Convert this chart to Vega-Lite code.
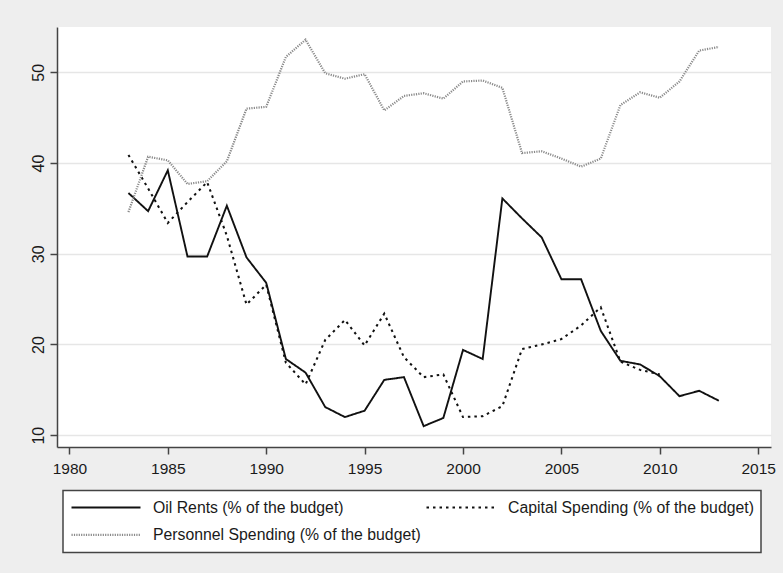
{
  "$schema": "https://vega.github.io/schema/vega-lite/v6.json",
  "autosize": {"type": "none"},
  "width": 714,
  "height": 420,
  "padding": {"left": 57, "top": 27, "right": 12, "bottom": 126},
  "background": "#eeeeee",
  "config": {
    "font": "Arial",
    "view": {"fill": "white", "stroke": null},
    "axis": {
      "domainColor": "#444444",
      "domainWidth": 1.5,
      "tickColor": "#444444",
      "tickWidth": 1.5,
      "tickSize": 7,
      "labelFont": "Arial",
      "labelFontSize": 15.5,
      "labelColor": "#1a1a1a"
    },
    "legend": {"labelFont": "Arial"}
  },
  "data": {
    "values": [
      {"year": 1983, "series": "Oil Rents (% of the budget)", "value": 36.7},
      {"year": 1984, "series": "Oil Rents (% of the budget)", "value": 34.7},
      {"year": 1985, "series": "Oil Rents (% of the budget)", "value": 39.2},
      {"year": 1986, "series": "Oil Rents (% of the budget)", "value": 29.7},
      {"year": 1987, "series": "Oil Rents (% of the budget)", "value": 29.7},
      {"year": 1988, "series": "Oil Rents (% of the budget)", "value": 35.3},
      {"year": 1989, "series": "Oil Rents (% of the budget)", "value": 29.6},
      {"year": 1990, "series": "Oil Rents (% of the budget)", "value": 26.8},
      {"year": 1991, "series": "Oil Rents (% of the budget)", "value": 18.4},
      {"year": 1992, "series": "Oil Rents (% of the budget)", "value": 16.9},
      {"year": 1993, "series": "Oil Rents (% of the budget)", "value": 13.1},
      {"year": 1994, "series": "Oil Rents (% of the budget)", "value": 12.0},
      {"year": 1995, "series": "Oil Rents (% of the budget)", "value": 12.7},
      {"year": 1996, "series": "Oil Rents (% of the budget)", "value": 16.1},
      {"year": 1997, "series": "Oil Rents (% of the budget)", "value": 16.4},
      {"year": 1998, "series": "Oil Rents (% of the budget)", "value": 11.0},
      {"year": 1999, "series": "Oil Rents (% of the budget)", "value": 11.9},
      {"year": 2000, "series": "Oil Rents (% of the budget)", "value": 19.4},
      {"year": 2001, "series": "Oil Rents (% of the budget)", "value": 18.4},
      {"year": 2002, "series": "Oil Rents (% of the budget)", "value": 36.1},
      {"year": 2003, "series": "Oil Rents (% of the budget)", "value": 33.9},
      {"year": 2004, "series": "Oil Rents (% of the budget)", "value": 31.8},
      {"year": 2005, "series": "Oil Rents (% of the budget)", "value": 27.2},
      {"year": 2006, "series": "Oil Rents (% of the budget)", "value": 27.2},
      {"year": 2007, "series": "Oil Rents (% of the budget)", "value": 21.5},
      {"year": 2008, "series": "Oil Rents (% of the budget)", "value": 18.2},
      {"year": 2009, "series": "Oil Rents (% of the budget)", "value": 17.8},
      {"year": 2010, "series": "Oil Rents (% of the budget)", "value": 16.5},
      {"year": 2011, "series": "Oil Rents (% of the budget)", "value": 14.3},
      {"year": 2012, "series": "Oil Rents (% of the budget)", "value": 14.9},
      {"year": 2013, "series": "Oil Rents (% of the budget)", "value": 13.8},

      {"year": 1983, "series": "Capital Spending (% of the budget)", "value": 40.9},
      {"year": 1984, "series": "Capital Spending (% of the budget)", "value": 37.2},
      {"year": 1985, "series": "Capital Spending (% of the budget)", "value": 33.4},
      {"year": 1986, "series": "Capital Spending (% of the budget)", "value": 35.7},
      {"year": 1987, "series": "Capital Spending (% of the budget)", "value": 37.9},
      {"year": 1988, "series": "Capital Spending (% of the budget)", "value": 32.0},
      {"year": 1989, "series": "Capital Spending (% of the budget)", "value": 24.4},
      {"year": 1990, "series": "Capital Spending (% of the budget)", "value": 26.6},
      {"year": 1991, "series": "Capital Spending (% of the budget)", "value": 18.0},
      {"year": 1992, "series": "Capital Spending (% of the budget)", "value": 15.6},
      {"year": 1993, "series": "Capital Spending (% of the budget)", "value": 20.5},
      {"year": 1994, "series": "Capital Spending (% of the budget)", "value": 22.7},
      {"year": 1995, "series": "Capital Spending (% of the budget)", "value": 19.9},
      {"year": 1996, "series": "Capital Spending (% of the budget)", "value": 23.4},
      {"year": 1997, "series": "Capital Spending (% of the budget)", "value": 18.6},
      {"year": 1998, "series": "Capital Spending (% of the budget)", "value": 16.4},
      {"year": 1999, "series": "Capital Spending (% of the budget)", "value": 16.7},
      {"year": 2000, "series": "Capital Spending (% of the budget)", "value": 12.0},
      {"year": 2001, "series": "Capital Spending (% of the budget)", "value": 12.1},
      {"year": 2002, "series": "Capital Spending (% of the budget)", "value": 13.2},
      {"year": 2003, "series": "Capital Spending (% of the budget)", "value": 19.5},
      {"year": 2004, "series": "Capital Spending (% of the budget)", "value": 20.0},
      {"year": 2005, "series": "Capital Spending (% of the budget)", "value": 20.6},
      {"year": 2006, "series": "Capital Spending (% of the budget)", "value": 22.1},
      {"year": 2007, "series": "Capital Spending (% of the budget)", "value": 24.1},
      {"year": 2008, "series": "Capital Spending (% of the budget)", "value": 18.1},
      {"year": 2009, "series": "Capital Spending (% of the budget)", "value": 17.2},
      {"year": 2010, "series": "Capital Spending (% of the budget)", "value": 16.7},

      {"year": 1983, "series": "Personnel Spending (% of the budget)", "value": 34.6},
      {"year": 1984, "series": "Personnel Spending (% of the budget)", "value": 40.7},
      {"year": 1985, "series": "Personnel Spending (% of the budget)", "value": 40.3},
      {"year": 1986, "series": "Personnel Spending (% of the budget)", "value": 37.7},
      {"year": 1987, "series": "Personnel Spending (% of the budget)", "value": 38.0},
      {"year": 1988, "series": "Personnel Spending (% of the budget)", "value": 40.2},
      {"year": 1989, "series": "Personnel Spending (% of the budget)", "value": 46.0},
      {"year": 1990, "series": "Personnel Spending (% of the budget)", "value": 46.2},
      {"year": 1991, "series": "Personnel Spending (% of the budget)", "value": 51.7},
      {"year": 1992, "series": "Personnel Spending (% of the budget)", "value": 53.6},
      {"year": 1993, "series": "Personnel Spending (% of the budget)", "value": 49.9},
      {"year": 1994, "series": "Personnel Spending (% of the budget)", "value": 49.3},
      {"year": 1995, "series": "Personnel Spending (% of the budget)", "value": 49.8},
      {"year": 1996, "series": "Personnel Spending (% of the budget)", "value": 45.8},
      {"year": 1997, "series": "Personnel Spending (% of the budget)", "value": 47.4},
      {"year": 1998, "series": "Personnel Spending (% of the budget)", "value": 47.7},
      {"year": 1999, "series": "Personnel Spending (% of the budget)", "value": 47.1},
      {"year": 2000, "series": "Personnel Spending (% of the budget)", "value": 49.0},
      {"year": 2001, "series": "Personnel Spending (% of the budget)", "value": 49.1},
      {"year": 2002, "series": "Personnel Spending (% of the budget)", "value": 48.3},
      {"year": 2003, "series": "Personnel Spending (% of the budget)", "value": 41.1},
      {"year": 2004, "series": "Personnel Spending (% of the budget)", "value": 41.3},
      {"year": 2005, "series": "Personnel Spending (% of the budget)", "value": 40.5},
      {"year": 2006, "series": "Personnel Spending (% of the budget)", "value": 39.6},
      {"year": 2007, "series": "Personnel Spending (% of the budget)", "value": 40.5},
      {"year": 2008, "series": "Personnel Spending (% of the budget)", "value": 46.4},
      {"year": 2009, "series": "Personnel Spending (% of the budget)", "value": 47.8},
      {"year": 2010, "series": "Personnel Spending (% of the budget)", "value": 47.2},
      {"year": 2011, "series": "Personnel Spending (% of the budget)", "value": 49.0},
      {"year": 2012, "series": "Personnel Spending (% of the budget)", "value": 52.4},
      {"year": 2013, "series": "Personnel Spending (% of the budget)", "value": 52.8}
    ]
  },
  "mark": {"type": "line", "strokeCap": "butt", "strokeJoin": "miter"},
  "encoding": {
    "x": {
      "field": "year",
      "type": "quantitative",
      "scale": {"domain": [1979.37, 2015.65], "nice": false, "zero": false},
      "axis": {
        "title": null,
        "values": [1980, 1985, 1990, 1995, 2000, 2005, 2010, 2015],
        "format": "d",
        "grid": false,
        "labelFontSize": 15.5,
        "labelPadding": 7,
        "labelFlush": false
      }
    },
    "y": {
      "field": "value",
      "type": "quantitative",
      "scale": {"domain": [8.7, 55.0], "nice": false, "zero": false},
      "axis": {
        "title": null,
        "values": [10, 20, 30, 40, 50],
        "grid": true,
        "gridColor": "#e6e6e6",
        "gridWidth": 1.5,
        "labelFontSize": 16,
        "labelAngle": 270,
        "labelAlign": "center",
        "labelBaseline": "alphabetic",
        "labelPadding": 7,
        "labelFlush": false
      }
    },
    "color": {
      "field": "series",
      "type": "nominal",
      "scale": {
        "domain": ["Oil Rents (% of the budget)", "Capital Spending (% of the budget)", "Personnel Spending (% of the budget)"],
        "range": ["#111111", "#111111", "#8a8a8a"]
      },
      "legend": {
        "title": null,
        "orient": "none",
        "direction": "horizontal",
        "legendX": 6,
        "legendY": 463.5,
        "columns": 2,
        "columnPadding": 4,
        "rowPadding": 7.6,
        "padding": 7,
        "clipHeight": 19.7,
        "strokeColor": "#444444",
        "fillColor": "white",
        "symbolType": "stroke",
        "symbolSize": 4761,
        "labelOffset": 11,
        "labelFontSize": 15.8,
        "labelColor": "#1a1a1a",
        "labelLimit": 0,
        "encode": {"legend": {"update": {"strokeWidth": {"value": 1.5}}}}
      }
    },
    "strokeDash": {
      "field": "series",
      "type": "nominal",
      "scale": {
        "domain": ["Oil Rents (% of the budget)", "Capital Spending (% of the budget)", "Personnel Spending (% of the budget)"],
        "range": [[1, 0], [2.5, 4], [1.2, 1.2]]
      }
    },
    "strokeWidth": {
      "field": "series",
      "type": "nominal",
      "scale": {
        "domain": ["Oil Rents (% of the budget)", "Capital Spending (% of the budget)", "Personnel Spending (% of the budget)"],
        "range": [1.9, 2.2, 1.6]
      }
    }
  }
}
